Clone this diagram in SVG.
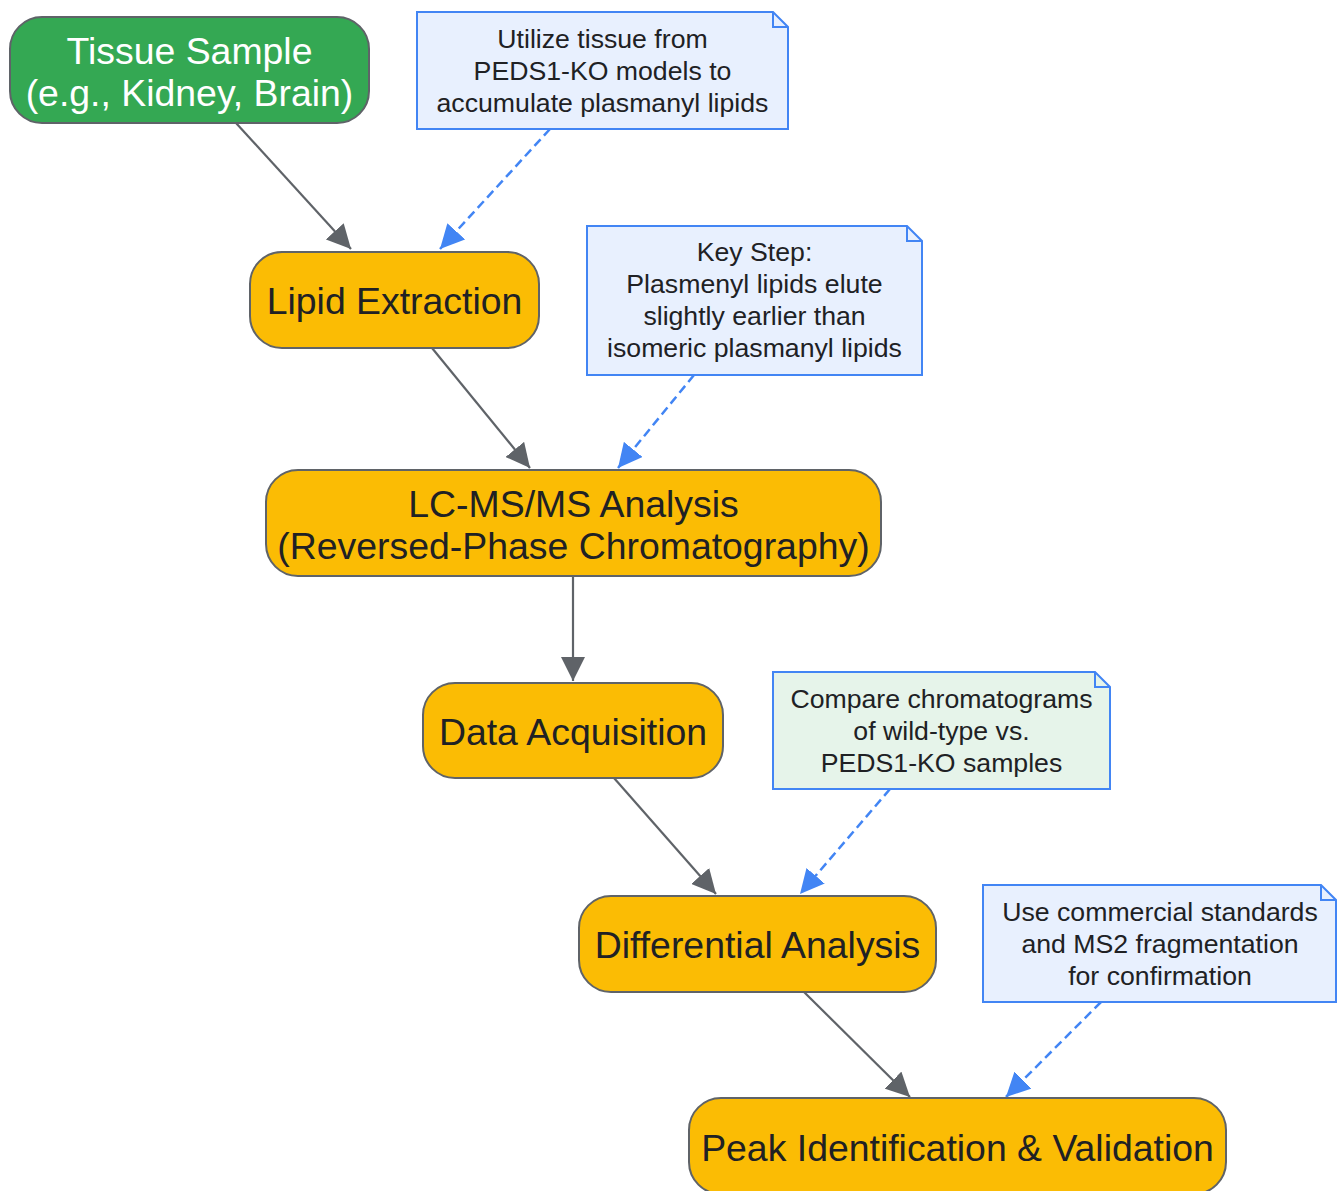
<svg xmlns="http://www.w3.org/2000/svg" width="1337" height="1191" viewBox="0 0 1337 1191">
<defs>
<style>
.node{stroke:#5f6368;stroke-width:2}
.green{fill:#34a853}
.orange{fill:#fbbc04}
.nt{font-family:"Liberation Sans",Arial,sans-serif;font-size:37.4px;text-anchor:middle;fill:#202124}
.wt{fill:#ffffff}
.note{stroke:#4285f4;stroke-width:2;fill:#e8f0fe}
.noteg{fill:#e6f4ea}
.fold{stroke:#4285f4;stroke-width:2;fill:none}
.tt{font-family:"Liberation Sans",Arial,sans-serif;font-size:26.67px;text-anchor:middle;fill:#202124}
.e{stroke:#5f6368;stroke-width:2.2;fill:none}
.d{stroke:#4285f4;stroke-width:2.5;fill:none;stroke-dasharray:9 5}
</style>
<marker id="ag" viewBox="0 0 10 10" refX="10" refY="5" markerUnits="userSpaceOnUse" markerWidth="24" markerHeight="24" orient="auto"><path d="M0,0 L10,5 L0,10 z" fill="#5f6368"/></marker>
<marker id="ab" viewBox="0 0 10 10" refX="10" refY="5" markerUnits="userSpaceOnUse" markerWidth="24" markerHeight="24" orient="auto"><path d="M0,0 L10,5 L0,10 z" fill="#4285f4"/></marker>
</defs>
<g id="connectors">
<line class="e" x1="236" y1="123" x2="351" y2="249" marker-end="url(#ag)"/>
<line class="d" x1="550" y1="129" x2="440" y2="249" marker-end="url(#ab)"/>
<line class="e" x1="432" y1="348" x2="530" y2="468" marker-end="url(#ag)"/>
<line class="d" x1="694" y1="375" x2="618" y2="468" marker-end="url(#ab)"/>
<line class="e" x1="573" y1="576" x2="573" y2="681" marker-end="url(#ag)"/>
<line class="e" x1="614" y1="778" x2="716" y2="894" marker-end="url(#ag)"/>
<line class="d" x1="890" y1="789" x2="800" y2="894" marker-end="url(#ab)"/>
<line class="e" x1="804" y1="992" x2="910" y2="1097" marker-end="url(#ag)"/>
<line class="d" x1="1101" y1="1002" x2="1006" y2="1097" marker-end="url(#ab)"/>
</g>
<g id="tissue">
<rect class="node green" x="10" y="17" width="359" height="106" rx="32"/>
<text class="nt wt" x="189.5" y="64">Tissue Sample</text>
<text class="nt wt" x="189.5" y="106">(e.g., Kidney, Brain)</text>
</g>
<g id="lipid">
<rect class="node orange" x="250" y="252" width="289" height="96" rx="32"/>
<text class="nt" x="394.5" y="314">Lipid Extraction</text>
</g>
<g id="lcms">
<rect class="node orange" x="266" y="470" width="615" height="106" rx="32"/>
<text class="nt" x="573.5" y="517">LC-MS/MS Analysis</text>
<text class="nt" x="573.5" y="559">(Reversed-Phase Chromatography)</text>
</g>
<g id="data">
<rect class="node orange" x="423" y="683" width="300" height="95" rx="32"/>
<text class="nt" x="573" y="745">Data Acquisition</text>
</g>
<g id="diff">
<rect class="node orange" x="579" y="896" width="357" height="96" rx="32"/>
<text class="nt" x="757.5" y="958">Differential Analysis</text>
</g>
<g id="peak">
<rect class="node orange" x="689" y="1098" width="537" height="96" rx="32"/>
<text class="nt" x="957.5" y="1161">Peak Identification &amp; Validation</text>
</g>
<g id="note1">
<path class="note" d="M417,12 H773 L788,27 V129 H417 Z"/>
<path class="fold" d="M773,12 V27 H788"/>
<text class="tt" x="602.5" y="48">Utilize tissue from</text>
<text class="tt" x="602.5" y="80">PEDS1-KO models to</text>
<text class="tt" x="602.5" y="112">accumulate plasmanyl lipids</text>
</g>
<g id="note2">
<path class="note" d="M587,226 H907 L922,241 V375 H587 Z"/>
<path class="fold" d="M907,226 V241 H922"/>
<text class="tt" x="754.5" y="261">Key Step:</text>
<text class="tt" x="754.5" y="293">Plasmenyl lipids elute</text>
<text class="tt" x="754.5" y="325">slightly earlier than</text>
<text class="tt" x="754.5" y="357">isomeric plasmanyl lipids</text>
</g>
<g id="note3">
<path class="note noteg" d="M773,672 H1095 L1110,687 V789 H773 Z"/>
<path class="fold" d="M1095,672 V687 H1110"/>
<text class="tt" x="941.5" y="708">Compare chromatograms</text>
<text class="tt" x="941.5" y="740">of wild-type vs.</text>
<text class="tt" x="941.5" y="772">PEDS1-KO samples</text>
</g>
<g id="note4">
<path class="note" d="M983,885 H1321 L1336,900 V1002 H983 Z"/>
<path class="fold" d="M1321,885 V900 H1336"/>
<text class="tt" x="1160" y="921">Use commercial standards</text>
<text class="tt" x="1160" y="953">and MS2 fragmentation</text>
<text class="tt" x="1160" y="985">for confirmation</text>
</g>
</svg>
